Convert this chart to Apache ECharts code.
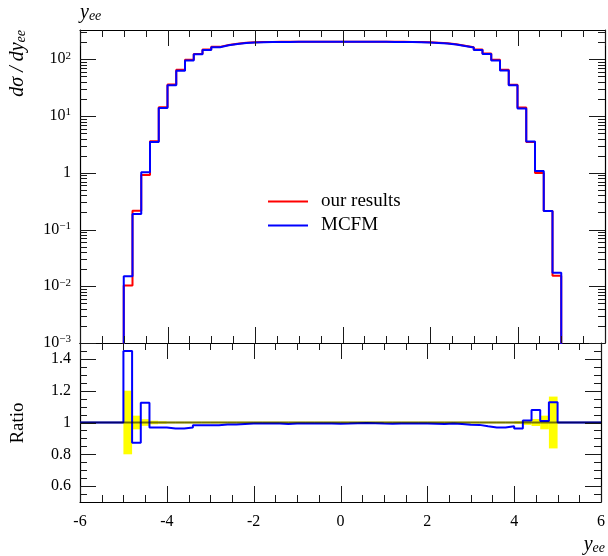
<!DOCTYPE html>
<html><head><meta charset="utf-8">
<script src="https://cdn.jsdelivr.net/npm/echarts@6/dist/echarts.min.js"></script>
<style>html,body{margin:0;padding:0;background:#fff}#c{width:608px;height:556px}</style>
</head><body><div id="c"></div>
<script>
// ---- data ----
const binEdges = [-5.0,-4.8,-4.6,-4.4,-4.2,-4.0,-3.8,-3.6,-3.4,-3.2,-3.0,-2.8,-2.6,-2.4,-2.2,-2.0,-1.8,-1.6,-1.4,-1.2,-1.0,-0.8,-0.6,-0.4,-0.2,0.0,0.2,0.4,0.6,0.8,1.0,1.2,1.4,1.6,1.8,2.0,2.2,2.4,2.6,2.8,3.0,3.2,3.4,3.6,3.8,4.0,4.2,4.4,4.6,4.8,5.0];
const ourResults = [0.0103,0.214,0.91,3.6,14.3,36.0,65.5,98,124,148.5,165.5,178,188,195,199,201,202,203,204,204,204.5,204.5,204.5,204.5,204.5,204.5,204,203.5,203.5,204,203.5,203,202,201,199.5,196.5,192,184,173.5,163.5,148,127,98,65.5,35.7,14.2,3.5,0.99,0.211,0.0153];
const mcfm = [0.0150,0.187,1.02,3.5,13.9,34.8,63,95,122,146,163,176,186,193,198,200,201,202,202,203,203,203,203,203,203,203,203,203,203,203,202,202,201,200,198,194,190,182,171,161,146,124,95,63.5,34.8,13.6,3.55,1.07,0.213,0.0173];
const ratioMcfm = [1.45,0.872,1.124,0.968,0.968,0.962,0.962,0.968,0.982,0.982,0.983,0.987,0.987,0.990,0.993,0.994,0.994,0.994,0.990,0.994,0.993,0.994,0.994,0.993,0.992,0.993,0.995,0.997,0.996,0.993,0.992,0.994,0.993,0.994,0.993,0.992,0.990,0.994,0.991,0.986,0.985,0.976,0.969,0.969,0.976,0.962,1.012,1.078,1.010,1.128];
const refBand = [0.2,0.043,0.021,0.011,0.008,0.006,0.006,0.006,0.006,0.006,0.006,0.006,0.006,0.006,0.006,0.006,0.006,0.006,0.006,0.006,0.006,0.006,0.006,0.006,0.006,0.006,0.006,0.006,0.006,0.006,0.006,0.006,0.006,0.006,0.006,0.006,0.006,0.006,0.006,0.006,0.006,0.006,0.006,0.006,0.006,0.008,0.015,0.022,0.043,0.163];
const xTickLabels = [-6,-4,-2,0,2,4,6];
const xMinorTicks = [-5.5,-5,-4.5,-3.5,-3,-2.5,-1.5,-1,-0.5,0.5,1,1.5,2.5,3,3.5,4.5,5,5.5];
const logTickExponents = [-3,-2,-1,0,1,2];
const logMajorTicks = [0.001,0.01,0.1,1,10,100];
const logMinorTicks = [0.002,0.003,0.004,0.005,0.006,0.007,0.008,0.009,0.02,0.03,0.04,0.05,0.06,0.07,0.08,0.09,0.2,0.3,0.4,0.5,0.6,0.7,0.8,0.9,2,3,4,5,6,7,8,9,20,30,40,50,60,70,80,90,200,300];
const ratioTickLabels = [0.6,0.8,1,1.2,1.4];
const ratioMinorTicks = [0.55,0.65,0.7,0.75,0.85,0.9,0.95,1.05,1.1,1.15,1.25,1.3,1.35,1.45];

// ---- helpers ----
const FONT = 'Liberation Serif';
const Y_MIN = 0.001, Y_MAX = 328;
const LMIN = Math.log10(Y_MIN), LMAX = Math.log10(Y_MAX);
const FLOOR = 1e-6;
function histData(vals) {
  const d = [[binEdges[0], FLOOR]];
  vals.forEach((v, i) => d.push([binEdges[i], v]));
  d.push([binEdges[binEdges.length - 1], vals[vals.length - 1]]);
  d.push([binEdges[binEdges.length - 1], FLOOR]);
  return d;
}
const ratioData = [[-6, 1]];
ratioMcfm.forEach((v, i) => ratioData.push([binEdges[i], v]));
ratioData.push([binEdges[binEdges.length - 1], 1]);
ratioData.push([6, 1]);

const lineCol = '#000';
const AXLINE = { show: true, onZero: false, lineStyle: { color: lineCol, width: 1.2 } };
function xAx(grid, pos, labels) {
  return {
    type: 'value', gridIndex: grid, position: pos, min: -6, max: 6, interval: 2,
    axisLine: AXLINE, axisTick: { show: false }, minorTick: { show: false },
    axisLabel: labels ? { show: true, margin: 12, fontFamily: FONT, fontSize: 16, color: '#000', customValues: xTickLabels } : { show: false },
    splitLine: { show: false }
  };
}
function frameAx(grid, pos, min, max, label) {
  return {
    type: 'value', gridIndex: grid, position: pos, min: min, max: max,
    axisLine: AXLINE, axisTick: { show: false }, minorTick: { show: false },
    axisLabel: label || { show: false }, splitLine: { show: false }
  };
}
const logLabel = {
  show: true, margin: 9, customValues: logTickExponents,
  formatter: v => {
    const e = Math.round(v);
    if (e === 0) return '{n|1}';
    return '{n|10}{p|' + (e < 0 ? '\u2212' + (-e) : e) + '}';
  },
  rich: {
    n: { fontFamily: FONT, fontSize: 16, lineHeight: 18, color: '#000' },
    p: { fontFamily: FONT, fontSize: 11, lineHeight: 11, verticalAlign: 'top', color: '#000' }
  }
};
const ratioLabel = {
  show: true, margin: 9, customValues: ratioTickLabels, fontFamily: FONT, fontSize: 16, color: '#000',
  formatter: v => (Math.abs(v - 1) < 1e-9 ? '1' : v.toFixed(1))
};

// inward ticks on all four sides, positioned through the axis scales
function tickSeries(xi, yi, yMaj, yMin) {
  const data = [];
  xTickLabels.forEach(v => data.push([v, 1, 16, 0]));
  xMinorTicks.forEach(v => data.push([v, 1, 7, 0]));
  yMaj.forEach(v => data.push([0, v, 16, 1]));
  yMin.forEach(v => data.push([0, v, 7, 1]));
  return {
    type: 'custom', name: 'ticks', xAxisIndex: xi, yAxisIndex: yi, clip: false, silent: true, z: 6,
    data: data, encode: { x: 0, y: 1 },
    renderItem: (params, api) => {
      const cs = params.coordSys;
      const len = api.value(2), kind = api.value(3);
      const p = api.coord([api.value(0), api.value(1)]);
      const st = { stroke: '#1a1a1a', lineWidth: 1 };
      if (kind === 0) {
        const x = Math.round(p[0]) + 0.5;
        return { type: 'group', children: [
          { type: 'line', shape: { x1: x, y1: cs.y + cs.height, x2: x, y2: cs.y + cs.height - len }, style: st },
          { type: 'line', shape: { x1: x, y1: cs.y, x2: x, y2: cs.y + len }, style: st }
        ] };
      }
      const y = Math.round(p[1]) + 0.5;
      return { type: 'group', children: [
        { type: 'line', shape: { x1: cs.x, y1: y, x2: cs.x + len, y2: y }, style: st },
        { type: 'line', shape: { x1: cs.x + cs.width, y1: y, x2: cs.x + cs.width - len, y2: y }, style: st }
      ] };
    }
  };
}

const subRich = {
  i: { fontFamily: FONT, fontStyle: 'italic', fontSize: 20, lineHeight: 20, fill: '#000' },
  s: { fontFamily: FONT, fontStyle: 'italic', fontSize: 14, lineHeight: 8, verticalAlign: 'bottom', fill: '#000' }
};

const option = {
  animation: false,
  backgroundColor: '#fff',
  grid: [
    { left: 80, top: 30, width: 525, height: 313 },
    { left: 80, top: 343, width: 525, height: 159 }
  ],
  legend: {
    data: ['our results', 'MCFM'], orient: 'vertical', left: 263, top: 187,
    itemWidth: 40, itemHeight: 2, itemGap: 5, icon: 'rect', selectedMode: false,
    textStyle: { fontFamily: FONT, fontSize: 19, color: '#000', padding: [0, 0, 0, 8] }
  },
  xAxis: [xAx(0, 'bottom', false), xAx(0, 'top', false), xAx(1, 'bottom', true), xAx(1, 'top', false)],
  yAxis: [
    { type: 'log', gridIndex: 0, min: Y_MIN, max: Y_MAX, show: false, splitLine: { show: false } },
    frameAx(0, 'left', LMIN, LMAX, logLabel),
    frameAx(0, 'right', LMIN, LMAX),
    frameAx(1, 'left', 0.5, 1.5, ratioLabel),
    frameAx(1, 'right', 0.5, 1.5)
  ],
  series: [
    { name: 'our results', type: 'line', step: 'end', xAxisIndex: 0, yAxisIndex: 0, data: histData(ourResults),
      symbol: 'none', showSymbol: false, color: '#ff0000', lineStyle: { color: '#ff0000', width: 2 }, z: 3 },
    { name: 'MCFM', type: 'line', step: 'end', xAxisIndex: 0, yAxisIndex: 0, data: histData(mcfm),
      symbol: 'none', showSymbol: false, color: '#0000ff', lineStyle: { color: '#0000ff', width: 2 }, z: 4 },
    { name: 'ref band', type: 'custom', xAxisIndex: 2, yAxisIndex: 3, clip: true, z: 1,
      data: binEdges.slice(0, -1).map((x, i) => [x, binEdges[i + 1], refBand[i]]),
      encode: { x: [0, 1] },
      renderItem: (params, api) => {
        const lo = api.value(0), hi = api.value(1), e = api.value(2);
        const p0 = api.coord([lo, 1 + e]), p1 = api.coord([hi, 1 - e]);
        return { type: 'rect', shape: { x: p0[0], y: p0[1], width: p1[0] - p0[0], height: Math.max(1, p1[1] - p0[1]) }, style: { fill: '#ffff00' } };
      } },
    { name: 'ratio', type: 'line', step: 'end', xAxisIndex: 2, yAxisIndex: 3, data: ratioData,
      symbol: 'none', showSymbol: false, lineStyle: { color: '#0000ff', width: 2 }, z: 3 },
    { name: 'unity', type: 'line', xAxisIndex: 2, yAxisIndex: 3, data: [[-6, 1], [6, 1]],
      symbol: 'none', showSymbol: false, lineStyle: { color: '#000', width: 2, opacity: 0.55 }, z: 5, silent: true },
    tickSeries(0, 0, logMajorTicks, logMinorTicks),
    tickSeries(2, 3, ratioTickLabels, ratioMinorTicks)
  ],
  graphic: [
    { type: 'text', x: 80, y: 13, style: { text: '{i|y}{s|ee}', align: 'left', verticalAlign: 'middle', rich: subRich } },
    { type: 'text', x: 605, y: 545, style: { text: '{i|y}{s|ee}', align: 'right', verticalAlign: 'middle', rich: subRich } },
    { type: 'text', x: 18, y: 30, rotation: Math.PI / 2, style: { text: '{i|d\u03c3 / dy}{s|ee}', align: 'right', verticalAlign: 'middle', rich: subRich } },
    { type: 'text', x: 18, y: 423, rotation: Math.PI / 2, style: { text: 'Ratio', align: 'center', verticalAlign: 'middle',
      fontFamily: FONT, fontSize: 19, fill: '#000' } }
  ]
};
const chart = echarts.init(document.getElementById('c'), null, { renderer: 'canvas' });
chart.setOption(option);
</script>
</body></html>
